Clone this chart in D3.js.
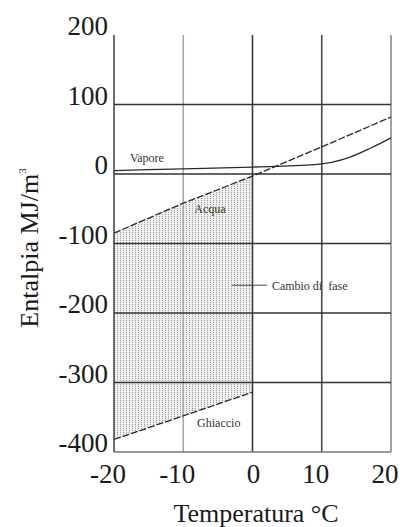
<!DOCTYPE html>
<html>
  <head>
    <meta charset="utf-8">
    <title>Entalpia</title>
    <script src="https://d3js.org/d3.v7.min.js"></script>
    <style>
      body { margin: 0; background: #fff; }
      #chart { width: 403px; height: 527px; display: block; font-family: "Liberation Serif", "Times New Roman", serif; }
      .tickLabel { font-size: 27px; fill: #1a1a1a; }
      .axisTitle { font-size: 26px; fill: #1a1a1a; }
      .note { font-size: 12px; fill: #333; white-space: pre; }
      .grid { stroke-width: 1.6; }
      .plot { fill: none; stroke: #2a2a2a; stroke-width: 1.3; }
      .dashed { stroke-dasharray: 7 2; }
    </style>
  </head>
  <body>
    <svg id="chart">
      <defs>
        <pattern id="dots" width="3" height="2" patternUnits="userSpaceOnUse">
          <rect width="3" height="2" fill="#efefef"></rect>
          <rect width="1" height="1" fill="#999"></rect>
        </pattern>
      </defs>
      <g id="fillGroup"></g>
      <g id="gridGroup"></g>
      <g id="plotGroup"></g>
      <g id="labelGroup"></g>
    </svg>
    <script>
      // data
      xTicks = [-20, -10, 0, 10, 20];
      yTicks = [200, 100, 0, -100, -200, -300, -400];
      hLines = [100, 0, -100, -200, -300, -400];
      vapTemp = [-20, -10, 0, 9, 14, 17, 20];
      vapValue = [5, 7.5, 10, 13.5, 24, 37, 52];
      acquaTemp = [-20, -10, 0, 10, 20];
      acquaValue = [-85, -42, -3, 39, 82];
      ghiTemp = [-20, -10, 0];
      ghiValue = [-382, -348, -314];
      noteText = ["Vapore", "Acqua", "Ghiaccio", "Cambio di  fase"];
      noteTemp = [-17.7, -8.4, -8.0, 2.8];
      noteValue = [17, -56, -364, -167];

      // name page elements
      chart = d3.select("#chart");
      fillGroup = d3.select("#fillGroup");
      gridGroup = d3.select("#gridGroup");
      plotGroup = d3.select("#plotGroup");
      labelGroup = d3.select("#labelGroup");

      // scales
      x = d3.scaleLinear().domain([-20, 20]).range([114, 391]);
      y = d3.scaleLinear().domain([200, -400]).range([35, 452]);

      vapore = vapTemp.map(function(t, i) { return { t: t, v: vapValue[i] }; });
      acqua = acquaTemp.map(function(t, i) { return { t: t, v: acquaValue[i] }; });
      ghiaccio = ghiTemp.map(function(t, i) { return { t: t, v: ghiValue[i] }; });

      // phase change area between water and ice
      band = ghiaccio.map(function(d) {
        return { t: d.t, lo: d.v, hi: acqua.find(function(a) { return a.t == d.t; }).v };
      });
      area = d3.area()
        .x(function(d) { return x(d.t); })
        .y0(function(d) { return y(d.lo); })
        .y1(function(d) { return y(d.hi); });
      fillGroup.append("path")
        .attr("d", area(band))
        .attr("fill", "url(#dots)");

      // grid
      vColour = { "-20": "#4a4a4a", "-10": "#a8a8a8", "0": "#3a3a3a", "10": "#4a4a4a", "20": "#8a8a8a" };
      gridGroup.selectAll(".vLine")
        .data(xTicks)
        .join("line")
          .attr("class", "grid vLine")
          .attr("x1", function(d) { return x(d); })
          .attr("x2", function(d) { return x(d); })
          .attr("y1", y(200))
          .attr("y2", y(-400))
          .attr("stroke", function(d) { return vColour[d]; });
      gridGroup.selectAll(".hLine")
        .data(hLines)
        .join("line")
          .attr("class", "grid hLine")
          .attr("x1", x(-20))
          .attr("x2", x(20))
          .attr("y1", function(d) { return y(d); })
          .attr("y2", function(d) { return y(d); })
          .attr("stroke", function(d) { return d == -400 ? "#777" : "#333"; });

      // lines
      line = d3.line()
        .x(function(d) { return x(d.t); })
        .y(function(d) { return y(d.v); });
      plotGroup.append("path")
        .attr("class", "plot")
        .attr("d", line.curve(d3.curveMonotoneX)(vapore));
      line.curve(d3.curveLinear);
      plotGroup.append("path")
        .attr("class", "plot dashed")
        .attr("d", line(acqua));
      plotGroup.append("path")
        .attr("class", "plot dashed")
        .attr("d", line(ghiaccio));

      // tick labels
      labelGroup.selectAll(".yTick")
        .data(yTicks)
        .join("text")
          .attr("class", "tickLabel yTick")
          .attr("x", x(-20) - 6)
          .attr("y", function(d) { return y(d); })
          .attr("text-anchor", "end")
          .text(function(d) { return d; });
      labelGroup.selectAll(".xTick")
        .data(xTicks)
        .join("text")
          .attr("class", "tickLabel xTick")
          .attr("x", function(d) { return x(d) + (d == 0 ? 1 : -6); })
          .attr("y", 483)
          .attr("text-anchor", "middle")
          .text(function(d) { return d; });

      // axis titles
      labelGroup.append("text")
        .attr("class", "axisTitle")
        .attr("x", 256)
        .attr("y", 522)
        .attr("text-anchor", "middle")
        .text("Temperatura °C");
      yTitle = labelGroup.append("text")
        .attr("class", "axisTitle")
        .attr("transform", "translate(38, 248) rotate(-90)")
        .attr("text-anchor", "middle");
      yTitle.append("tspan").text("Entalpia MJ/m");
      yTitle.append("tspan")
        .attr("dy", -12)
        .style("font-size", "11px")
        .text("3");

      // notes
      labelGroup.selectAll(".note")
        .data(noteText)
        .join("text")
          .attr("class", "note")
          .attr("x", function(d, i) { return x(noteTemp[i]); })
          .attr("y", function(d, i) { return y(noteValue[i]); })
          .text(function(d) { return d; });
      labelGroup.append("line")
        .attr("x1", x(-3))
        .attr("x2", x(2.1))
        .attr("y1", y(-160))
        .attr("y2", y(-160))
        .attr("stroke", "#444")
        .attr("stroke-width", 1);
    </script>
  </body>
</html>
